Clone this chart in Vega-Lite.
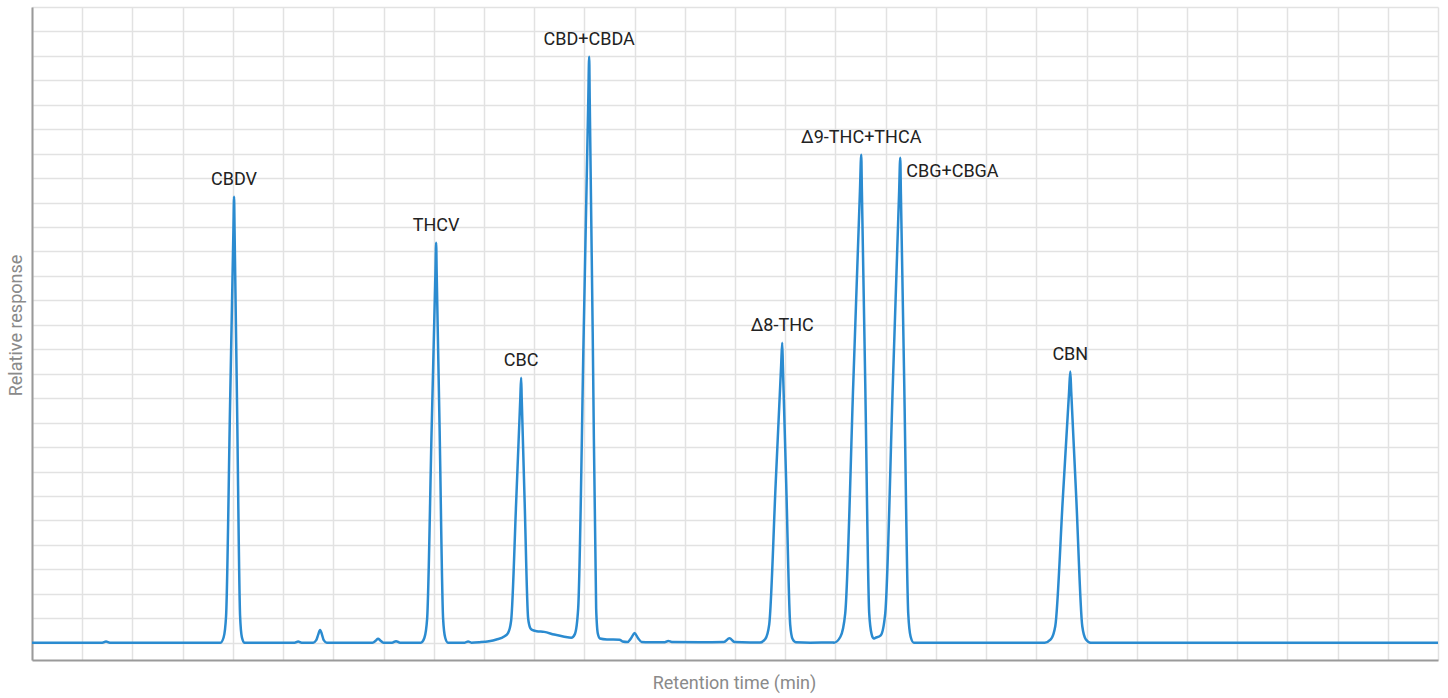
{
  "$schema": "https://vega.github.io/schema/vega-lite/v6.json",
  "width": 1406,
  "height": 653,
  "autosize": {"type": "none"},
  "padding": {"left": 32, "top": 7, "right": 10, "bottom": 38},
  "background": "white",
  "config": {
    "view": {"stroke": null},
    "font": "Roboto",
    "axis": {"gridColor": "#e2e2e2", "gridWidth": 1.5, "domainColor": "#9a9a9a", "domainWidth": 2, "labels": false, "ticks": false, "titleFont": "Roboto", "titleFontSize": 18, "titleFontWeight": "normal", "titleColor": "#8a8a8a"}
  },
  "datasets": {
    "signal": [
      {"t": 0, "r": 0},
      {"t": 1.40, "r": 0}, {"t": 1.474, "r": 0.05}, {"t": 1.55, "r": 0},
      {"t": 3.70, "r": 0},
      {"t": 3.754, "r": 0}, {"t": 3.817, "r": 0.22}, {"t": 3.865, "r": 1.09}, {"t": 3.944, "r": 9.67}, {"t": 4.011, "r": 16.87}, {"t": 4.024, "r": 18.24}, {"t": 4.034, "r": 16.87}, {"t": 4.084, "r": 9.67}, {"t": 4.144, "r": 1.09}, {"t": 4.180, "r": 0.22}, {"t": 4.228, "r": 0},
      {"t": 5.23, "r": 0}, {"t": 5.30, "r": 0.05}, {"t": 5.37, "r": 0},
      {"t": 5.60, "r": 0}, {"t": 5.66, "r": 0.1}, {"t": 5.70, "r": 0.33}, {"t": 5.737, "r": 0.52}, {"t": 5.775, "r": 0.33}, {"t": 5.81, "r": 0.1}, {"t": 5.87, "r": 0},
      {"t": 6.78, "r": 0}, {"t": 6.85, "r": 0.09}, {"t": 6.892, "r": 0.16}, {"t": 6.935, "r": 0.09}, {"t": 7.0, "r": 0},
      {"t": 7.17, "r": 0}, {"t": 7.25, "r": 0.06}, {"t": 7.33, "r": 0},
      {"t": 7.70, "r": 0},
      {"t": 7.744, "r": 0}, {"t": 7.815, "r": 0.2}, {"t": 7.869, "r": 0.98}, {"t": 7.958, "r": 8.67}, {"t": 8.034, "r": 15.13}, {"t": 8.048, "r": 16.36}, {"t": 8.059, "r": 15.13}, {"t": 8.118, "r": 8.67}, {"t": 8.187, "r": 0.98}, {"t": 8.229, "r": 0.2}, {"t": 8.284, "r": 0},
      {"t": 8.62, "r": 0}, {"t": 8.685, "r": 0.05}, {"t": 8.75, "r": 0},
      {"t": 8.92, "r": 0.02}, {"t": 9.10, "r": 0.06}, {"t": 9.25, "r": 0.13}, {"t": 9.403, "r": 0.25},
      {"t": 9.482, "r": 0.4}, {"t": 9.542, "r": 0.9}, {"t": 9.642, "r": 5.75}, {"t": 9.725, "r": 10.03}, {"t": 9.741, "r": 10.84}, {"t": 9.752, "r": 10.03}, {"t": 9.811, "r": 5.75}, {"t": 9.880, "r": 1.0}, {"t": 9.922, "r": 0.6},
      {"t": 9.96, "r": 0.52}, {"t": 10.05, "r": 0.47}, {"t": 10.2, "r": 0.44}, {"t": 10.4, "r": 0.33}, {"t": 10.6, "r": 0.24}, {"t": 10.74, "r": 0.2},
      {"t": 10.811, "r": 0.35}, {"t": 10.877, "r": 1.4}, {"t": 10.987, "r": 12.7}, {"t": 11.078, "r": 22.2}, {"t": 11.096, "r": 23.96}, {"t": 11.107, "r": 22.2}, {"t": 11.166, "r": 12.7}, {"t": 11.235, "r": 1.4}, {"t": 11.27, "r": 0.35}, {"t": 11.31, "r": 0.17}, {"t": 11.45, "r": 0.13}, {"t": 11.70, "r": 0.12}, {"t": 11.76, "r": 0.05},
      {"t": 11.86, "r": 0.03}, {"t": 11.93, "r": 0.18}, {"t": 12.0, "r": 0.39}, {"t": 12.07, "r": 0.18}, {"t": 12.14, "r": 0.03},
      {"t": 12.3, "r": 0.02}, {"t": 12.6, "r": 0.02}, {"t": 12.67, "r": 0.07}, {"t": 12.74, "r": 0.03}, {"t": 13.3, "r": 0.02},
      {"t": 13.78, "r": 0.03}, {"t": 13.89, "r": 0.18}, {"t": 13.99, "r": 0.03}, {"t": 14.3, "r": 0.01},
      {"t": 14.50, "r": 0.01}, {"t": 14.603, "r": 0.15}, {"t": 14.681, "r": 0.74}, {"t": 14.81, "r": 6.5}, {"t": 14.919, "r": 11.35}, {"t": 14.940, "r": 12.27}, {"t": 14.953, "r": 11.35}, {"t": 15.02, "r": 6.5}, {"t": 15.099, "r": 0.74}, {"t": 15.147, "r": 0.15}, {"t": 15.21, "r": 0.02},
      {"t": 15.5, "r": 0}, {"t": 15.95, "r": 0.01},
      {"t": 15.972, "r": 0}, {"t": 16.099, "r": 0.24}, {"t": 16.195, "r": 1.2}, {"t": 16.355, "r": 10.58}, {"t": 16.488, "r": 18.46}, {"t": 16.514, "r": 19.96}, {"t": 16.527, "r": 18.46}, {"t": 16.594, "r": 10.58}, {"t": 16.673, "r": 1.2}, {"t": 16.72, "r": 0.35}, {"t": 16.76, "r": 0.17}, {"t": 16.80, "r": 0.2},
      {"t": 16.902, "r": 0.3}, {"t": 16.992, "r": 1.2}, {"t": 17.142, "r": 10.5}, {"t": 17.267, "r": 18.34}, {"t": 17.291, "r": 19.83}, {"t": 17.304, "r": 18.34}, {"t": 17.371, "r": 10.5}, {"t": 17.45, "r": 1.19}, {"t": 17.498, "r": 0.24}, {"t": 17.561, "r": 0},
      {"t": 18.0, "r": 0}, {"t": 20.10, "r": 0},
      {"t": 20.169, "r": 0}, {"t": 20.288, "r": 0.13}, {"t": 20.378, "r": 0.67}, {"t": 20.528, "r": 5.88}, {"t": 20.653, "r": 10.26}, {"t": 20.677, "r": 11.09}, {"t": 20.696, "r": 10.26}, {"t": 20.797, "r": 5.88}, {"t": 20.916, "r": 0.67}, {"t": 20.988, "r": 0.13}, {"t": 21.083, "r": 0},
      {"t": 28, "r": 0}
    ],
    "peaks": [
      {"name": "CBDV", "t": 4.024, "r": 18.24, "side": "above"},
      {"name": "THCV", "t": 8.048, "r": 16.36, "side": "above"},
      {"name": "CBC", "t": 9.741, "r": 10.84, "side": "above"},
      {"name": "CBD+CBDA", "t": 11.096, "r": 23.96, "side": "above"},
      {"name": "Δ8-THC", "t": 14.94, "r": 12.27, "side": "above"},
      {"name": "Δ9-THC+THCA", "t": 16.514, "r": 19.96, "side": "above"},
      {"name": "CBG+CBGA", "t": 17.291, "r": 19.83, "side": "right"},
      {"name": "CBN", "t": 20.677, "r": 11.09, "side": "above"}
    ]
  },
  "layer": [
    {
      "data": {"name": "signal"},
      "mark": {"type": "line", "color": "#2b8bd0", "strokeWidth": 2.5, "interpolate": "monotone", "clip": true},
      "encoding": {
        "x": {"field": "t", "type": "quantitative", "scale": {"domain": [0, 28], "nice": false, "zero": false}, "axis": {"title": "Retention time (min)", "values": [0,1,2,3,4,5,6,7,8,9,10,11,12,13,14,15,16,17,18,19,20,21,22,23,24,25,26,27,28], "tickCount": 40, "titlePadding": 14, "titleX": 702, "grid": true}},
        "y": {"field": "r", "type": "quantitative", "scale": {"domain": [-0.71, 26], "nice": false, "zero": false}, "axis": {"title": "Relative response", "values": [0,1,2,3,4,5,6,7,8,9,10,11,12,13,14,15,16,17,18,19,20,21,22,23,24,25,26], "tickCount": 40, "titlePadding": 7, "titleY": 318, "grid": true}}
      }
    },
    {
      "data": {"name": "peaks"},
      "transform": [{"filter": "datum.side === 'above'"}],
      "mark": {"type": "text", "font": "Roboto", "fontSize": 18, "color": "#222222", "align": "center", "baseline": "alphabetic", "dy": -12},
      "encoding": {
        "x": {"field": "t", "type": "quantitative"},
        "y": {"field": "r", "type": "quantitative"},
        "text": {"field": "name"}
      }
    },
    {
      "data": {"name": "peaks"},
      "transform": [{"filter": "datum.side === 'right'"}],
      "mark": {"type": "text", "font": "Roboto", "fontSize": 18, "color": "#222222", "align": "left", "baseline": "alphabetic", "dx": 6, "dy": 19},
      "encoding": {
        "x": {"field": "t", "type": "quantitative"},
        "y": {"field": "r", "type": "quantitative"},
        "text": {"field": "name"}
      }
    }
  ]
}
